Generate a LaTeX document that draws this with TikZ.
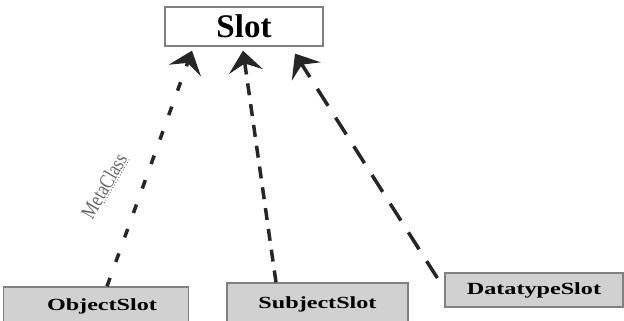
\documentclass[tikz,border=0pt]{standalone}
\usepackage{fontspec}
\setmainfont{Liberation Serif}
\usetikzlibrary{arrows.meta,calc}
\begin{document}
\begin{tikzpicture}[x=1pt,y=-1pt,
  cls/.style={draw=black!50, line width=1.3pt, inner sep=0pt},
  subcls/.style={cls, fill=black!18, font=\fontsize{17}{19}\selectfont\bfseries},
  dep/.style={line width=3.5pt, draw=black!85, -{Stealth[length=21pt,width=34pt,inset=8pt]}}]
\useasboundingbox (0,0) rectangle (624,321);
\node[cls, fill=white, minimum width=158pt, minimum height=39pt,
  font=\fontsize{33}{36}\selectfont\bfseries] (slot) at (244,26.5) {Slot};
\node[subcls, minimum width=185pt, minimum height=38pt] (obj) at (96,306)
  {\hspace{12pt}\scalebox{1.42}[1]{ObjectSlot}};
\node[subcls, minimum width=181pt, minimum height=42pt] (sub) at (317.5,304)
  {\raisebox{2pt}{\scalebox{1.42}[1]{SubjectSlot}}};
\node[subcls, minimum width=178pt, minimum height=34pt] (dt) at (534,290)
  {\scalebox{1.42}[1]{DatatypeSlot}};
\draw[dep, dash pattern=on 9pt off 17pt] ([xshift=11pt]obj.north) -- ([xshift=-52pt,yshift=-4pt]slot.south);
\draw[dep, dash pattern=on 12pt off 9pt] ([xshift=-41.5pt]sub.north) -- ([xshift=-1pt,yshift=-4pt]slot.south);
\draw[dep, dash pattern=on 20pt off 14pt] ([xshift=-7pt,yshift=12pt]dt.west) -- ([xshift=51pt,yshift=-7pt]slot.south);
\node[rotate=60, text=black!60, inner sep=1pt, font=\fontsize{21}{22}\selectfont] (meta) at (104,186)
  {\scalebox{0.8}[1]{MetaClass}};
\draw[black!60, dotted, line width=0.9pt] ($(meta.south west)!0.3!(meta.south east)$) -- (meta.south east);
\end{tikzpicture}
\end{document}
